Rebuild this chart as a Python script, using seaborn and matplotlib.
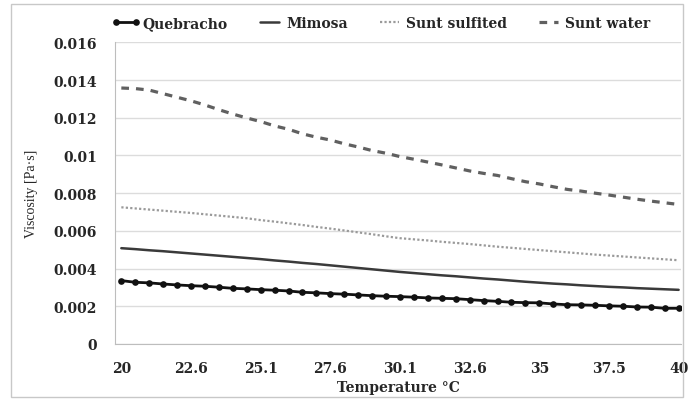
import numpy as np
import pandas as pd
import matplotlib
matplotlib.use("Agg")
import matplotlib.pyplot as plt
from matplotlib.patches import Rectangle
import seaborn as sns

# temperature labels shown on the category axis (every 5th reading)
temp_labels = ["20", "22.6", "25.1", "27.6", "30.1", "32.6", "35", "37.5", "40"]

# viscosity readings [Pa·s], 41 readings from 20 to 40 °C
quebracho = [0.00336, 0.00327, 0.00324, 0.00318, 0.00313, 0.00309, 0.00306, 0.00301,
             0.00295, 0.00292, 0.00288, 0.00285, 0.00281, 0.00274, 0.00271, 0.00267,
             0.00264, 0.00260, 0.00256, 0.00253, 0.00251, 0.00248, 0.00244, 0.00242,
             0.00240, 0.00235, 0.00230, 0.00226, 0.00221, 0.00219, 0.00218, 0.00212,
             0.00208, 0.00207, 0.00205, 0.00202, 0.00200, 0.00196, 0.00195, 0.00189,
             0.00189]
mimosa = [0.00508, 0.00503, 0.00497, 0.00492, 0.00486, 0.00480, 0.00474, 0.00468,
          0.00462, 0.00456, 0.00450, 0.00443, 0.00437, 0.00430, 0.00424, 0.00417,
          0.00410, 0.00403, 0.00396, 0.00389, 0.00382, 0.00376, 0.00370, 0.00364,
          0.00359, 0.00353, 0.00347, 0.00342, 0.00336, 0.00330, 0.00325, 0.00320,
          0.00316, 0.00311, 0.00307, 0.00303, 0.00300, 0.00296, 0.00293, 0.00290,
          0.00287]
sunt_sulfited = [0.00725, 0.00719, 0.00713, 0.00707, 0.00701, 0.00695, 0.00688, 0.00681,
                 0.00674, 0.00667, 0.00657, 0.00649, 0.00640, 0.00631, 0.00621, 0.00612,
                 0.00602, 0.00592, 0.00582, 0.00571, 0.00561, 0.00555, 0.00549, 0.00542,
                 0.00536, 0.00530, 0.00523, 0.00516, 0.00510, 0.00504, 0.00498, 0.00492,
                 0.00486, 0.00480, 0.00474, 0.00469, 0.00464, 0.00459, 0.00454, 0.00449,
                 0.00444]
sunt_water = [0.01358, 0.01355, 0.01347, 0.01328, 0.01309, 0.01290, 0.01268, 0.01243,
              0.01220, 0.01199, 0.01180, 0.01157, 0.01139, 0.01115, 0.01097, 0.01082,
              0.01062, 0.01045, 0.01026, 0.01012, 0.00994, 0.00980, 0.00965, 0.00950,
              0.00934, 0.00918, 0.00905, 0.00894, 0.00877, 0.00861, 0.00849, 0.00834,
              0.00820, 0.00811, 0.00800, 0.00790, 0.00779, 0.00768, 0.00758, 0.00749,
              0.00740]

y_ticks = [0, 0.002, 0.004, 0.006, 0.008, 0.01, 0.012, 0.014, 0.016]
y_tick_labels = ["0", "0.002", "0.004", "0.006", "0.008", "0.01", "0.012", "0.014", "0.016"]

sns.set_style("white")
plt.rcParams["font.family"] = ["DejaVu Serif"]

bold = {"family": "DejaVu Serif", "weight": "bold", "size": 10}

df = pd.DataFrame({
    "idx": np.arange(len(quebracho)),
    "Quebracho": quebracho,
    "Mimosa": mimosa,
    "Sunt sulfited": sunt_sulfited,
    "Sunt water": sunt_water,
})

fig = plt.figure(figsize=(6.89, 4.02), dpi=100)
ax = fig.add_axes([0.167, 0.142, 0.822, 0.750])

sns.lineplot(data=df, x="idx", y="Quebracho", ax=ax, color="#111111", lw=2.0,
             marker="o", markersize=4.8, markeredgewidth=0, label="Quebracho")
sns.lineplot(data=df, x="idx", y="Mimosa", ax=ax, color="#3a3a3a", lw=1.8,
             label="Mimosa")
sns.lineplot(data=df, x="idx", y="Sunt sulfited", ax=ax, color="#9a9a9a", lw=1.6,
             linestyle=(0, (1, 1)), label="Sunt sulfited")
sns.lineplot(data=df, x="idx", y="Sunt water", ax=ax, color="#606060", lw=2.3,
             linestyle=(0, (2.4, 2.2)), label="Sunt water")

ax.set_xlim(-0.45, 40.2)
ax.set_ylim(0, 0.016)
ax.set_yticks(y_ticks)
ax.set_yticklabels(y_tick_labels, fontdict=bold)
ax.set_xticks(np.arange(0, 41, 5))
ax.set_xticklabels(temp_labels, fontdict=bold)
ax.set_xticks(np.arange(0, 41), minor=True)
ax.tick_params(axis="x", which="both", length=3, color="#bdbdbd", direction="out", pad=9)
ax.tick_params(axis="y", length=3, color="#bdbdbd", direction="out", pad=10)
ax.grid(axis="y", color="#dcdcdc", lw=1)
ax.set_axisbelow(True)

for side in ["top", "right"]:
    ax.spines[side].set_visible(False)
ax.spines["left"].set_color("#bdbdbd")
ax.spines["bottom"].set_color("#bdbdbd")

ax.set_xlabel("Temperature °C", fontdict=bold, labelpad=4)
ax.set_ylabel("Viscosity [Pa·s]", family="Liberation Serif", fontsize=10, labelpad=11)

ax.legend(loc="lower center", bbox_to_anchor=(0.47, 1.0), ncol=4, frameon=False,
          numpoints=2, handlelength=2.0, handletextpad=0.2, columnspacing=2.0,
          prop=bold)

fig.add_artist(Rectangle((0.016, 0.01), 0.976, 0.978, transform=fig.transFigure,
                         fill=False, edgecolor="#c8c8c8", lw=1))

fig.savefig("out.png", dpi=100)
